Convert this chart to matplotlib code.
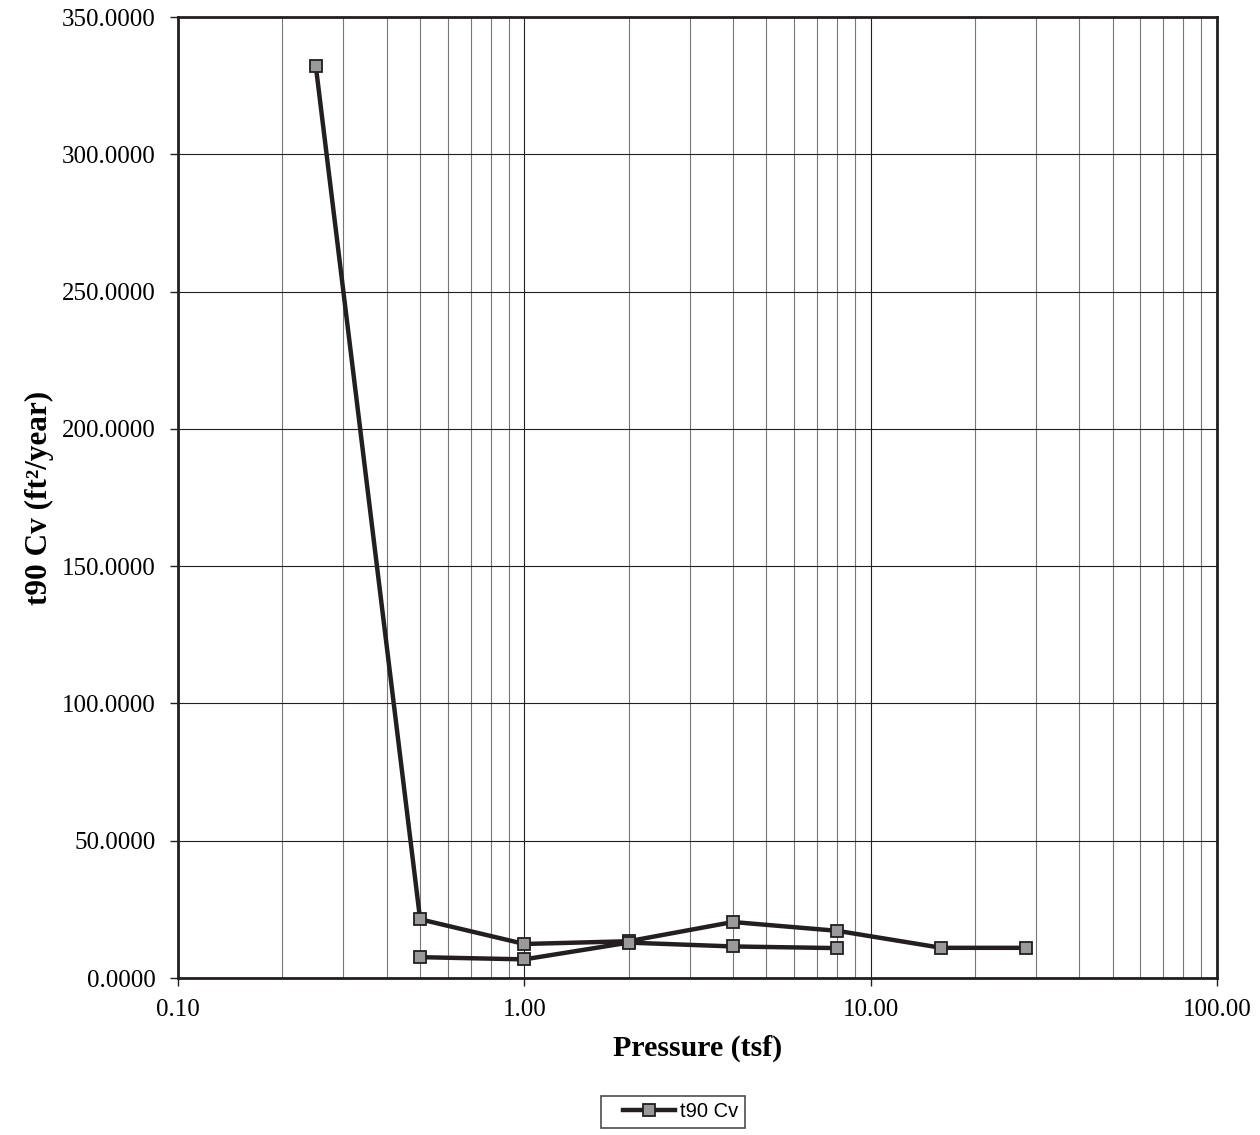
import numpy as np
import matplotlib
matplotlib.use('Agg')
import matplotlib.pyplot as plt
from matplotlib.legend_handler import HandlerLine2D
from matplotlib.ticker import FixedLocator, FuncFormatter, NullFormatter

# loading branch, then unloading/reloading branch (NaN splits the line)
pressure = [0.25, 0.5, 1.0, 2.0, 4.0, 8.0, 16.0, 28.0,
            np.nan,
            0.5, 1.0, 2.0, 4.0, 8.0]
cv = [332.0, 21.4, 12.4, 13.4, 20.4, 17.2, 11.0, 11.0,
      np.nan,
      7.6, 6.8, 12.9, 11.5, 10.9]


class InsetLineHandler(HandlerLine2D):
    """Legend line that leaves some blank space on its left."""
    def get_xdata(self, legend, xdescent, ydescent, width, height, fontsize):
        x0 = -xdescent + 0.24 * width
        x1 = -xdescent + width
        return np.array([x0, x1]), np.array([0.5 * (x0 + x1)])


plt.rcParams['font.family'] = ['Liberation Serif', 'DejaVu Serif']

fig = plt.figure(figsize=(12.6, 11.35), dpi=100)
ax = fig.add_axes([0.1413, 0.1383, 0.8246, 0.8467])

line, = ax.plot(pressure, cv, color='#231f20', lw=3.2,
                marker='s', ms=9, mfc='#9a9a9c', mec='#231f20', mew=1.3,
                label='t90 Cv', zorder=3)

ax.set_xscale('log')
ax.set_xlim(0.1, 100)
ax.set_ylim(0, 350)

ax.set_yticks(np.arange(0, 351, 50))
ax.yaxis.set_major_formatter(FuncFormatter(lambda v, p: '%.4f' % v))
ax.xaxis.set_major_locator(FixedLocator([0.1, 1, 10, 100]))
ax.xaxis.set_major_formatter(FuncFormatter(lambda v, p: '%.2f' % v))
minors = [m * 10.0 ** e for e in (-1, 0, 1) for m in range(2, 10)]
ax.xaxis.set_minor_locator(FixedLocator(minors))
ax.xaxis.set_minor_formatter(NullFormatter())

ax.grid(True, which='major', axis='both', color='#231f20', lw=0.8)
ax.grid(True, which='minor', axis='x', color='#777777', lw=0.8)
ax.set_axisbelow(True)

ax.tick_params(axis='both', which='major', direction='out', length=6,
               width=1.0, color='#231f20', labelsize=18)
ax.tick_params(axis='y', pad=10)
ax.tick_params(axis='x', pad=9)
ax.tick_params(axis='x', which='minor', length=0)
for s in ax.spines.values():
    s.set_linewidth(2.0)
    s.set_color('#231f20')

ax.set_xlabel('Pressure (tsf)', fontsize=21.5, fontweight='bold', labelpad=10)
ax.set_ylabel('t90 Cv (ft²/year)', fontsize=22.5, fontweight='bold', labelpad=6)

leg = fig.legend(handles=[line], loc='center', bbox_to_anchor=(0.534, 0.0203),
                 prop={'family': 'Liberation Sans', 'size': 14.5},
                 frameon=True, fancybox=False, edgecolor='#231f20',
                 handlelength=3.4, handletextpad=0.25, borderpad=0.3,
                 borderaxespad=0, handler_map={line: InsetLineHandler()})
leg.get_frame().set_linewidth(1.2)

fig.savefig('out.png', dpi=100)
